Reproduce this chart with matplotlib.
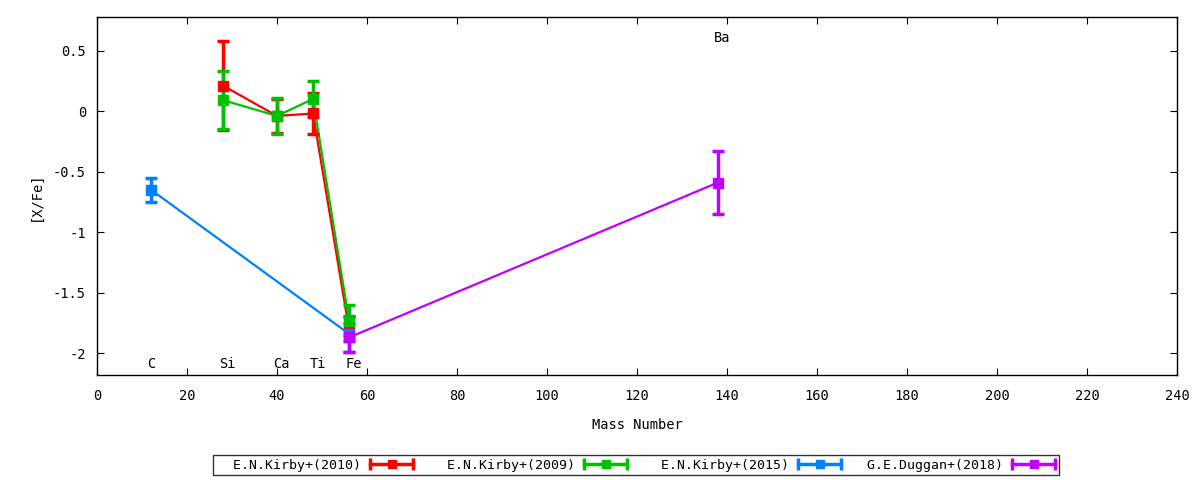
import matplotlib
matplotlib.use("Agg")
import matplotlib.pyplot as plt
from matplotlib.lines import Line2D
from matplotlib.legend_handler import HandlerBase

plt.rcParams['font.family'] = ['DejaVu Sans Mono']

# Data
kirby2010_x = [28, 40, 48, 56]
kirby2010_y = [0.21, -0.04, -0.02, -1.80]
kirby2010_e = [0.37, 0.14, 0.17, 0.10]

kirby2009_x = [28, 40, 48, 56]
kirby2009_y = [0.09, -0.04, 0.10, -1.73]
kirby2009_e = [0.24, 0.15, 0.15, 0.13]

kirby2015_x = [12, 56]
kirby2015_y = [-0.65, -1.84]
kirby2015_e = [0.10, 0.15]

duggan2018_x = [56, 138]
duggan2018_y = [-1.87, -0.59]
duggan2018_e = [0.12, 0.26]

elements = ["C", "Si", "Ca", "Ti", "Fe", "Ba"]
element_x = [12, 29, 41, 49, 57, 139]
element_y = [-2.09, -2.09, -2.09, -2.09, -2.09, 0.6]

series = [
    ("E.N.Kirby+(2010)", kirby2010_x, kirby2010_y, kirby2010_e, "#ff0000"),
    ("E.N.Kirby+(2009)", kirby2009_x, kirby2009_y, kirby2009_e, "#00c000"),
    ("E.N.Kirby+(2015)", kirby2015_x, kirby2015_y, kirby2015_e, "#0080ff"),
    ("G.E.Duggan+(2018)", duggan2018_x, duggan2018_y, duggan2018_e, "#c000ff"),
]

FS = 9.8
LFS = 9.5


class ErrSample(HandlerBase):
    def create_artists(self, legend, orig_handle, xdescent, ydescent,
                       width, height, fontsize, trans):
        c = orig_handle.get_color()
        y = height / 2 - ydescent
        x0, x1 = -xdescent, width - xdescent
        xm = (x0 + x1) / 2
        line = Line2D([x0, x1], [y, y], color=c, lw=2.5, transform=trans)
        caps = Line2D([x0, x1], [y, y], color=c, ls='none', marker='|',
                      ms=8, mew=2.5, transform=trans)
        mid = Line2D([xm], [y], color=c, ls='none', marker='s', ms=6,
                     transform=trans)
        return [line, caps, mid]


fig = plt.figure(figsize=(12, 4.8), dpi=100)
ax = fig.add_axes([97/1200, 1-375/480, (1177-97)/1200, (375-17)/480])

width = max(len(s[0]) for s in series) + 1
handles = []
for label, x, y, e, c in series:
    ax.plot(x, y, color=c, lw=1.6, zorder=2)
    ax.errorbar(x, y, yerr=e, fmt='s', color=c, ms=7, elinewidth=2.5,
                capsize=4, capthick=2.5, zorder=3)
    handles.append(Line2D([], [], color=c, label=label.rjust(width)))

for t, x, y in zip(elements, element_x, element_y):
    ax.text(x, y, t, ha='center', va='center', fontsize=FS)

ax.set_xlim(0, 240)
ax.set_ylim(-2.18, 0.777)
ax.set_xticks(range(0, 241, 20))
ax.set_yticks([-2, -1.5, -1, -0.5, 0, 0.5])
ax.set_yticklabels(["-2", "-1.5", "-1", "-0.5", "0", "0.5"])
ax.tick_params(direction='in', top=True, right=True, labelsize=FS, length=5)
ax.tick_params(axis='x', pad=10)
ax.tick_params(axis='y', pad=8)
for s in ax.spines.values():
    s.set_linewidth(1)

ax.set_xlabel("Mass Number", fontsize=FS, labelpad=11)
ax.set_ylabel("[X/Fe]", fontsize=FS, labelpad=7)

leg = fig.legend(handles=handles, loc='center',
                 bbox_to_anchor=(636/1200, 1-465/480), ncol=4,
                 markerfirst=False, frameon=True, fancybox=False,
                 fontsize=LFS, handlelength=3.3, columnspacing=1.3,
                 borderpad=0.3, handletextpad=0.7, borderaxespad=0,
                 handler_map={Line2D: ErrSample()})
leg.get_frame().set_edgecolor('black')
leg.get_frame().set_linewidth(1)

fig.savefig("out.png", dpi=100)
